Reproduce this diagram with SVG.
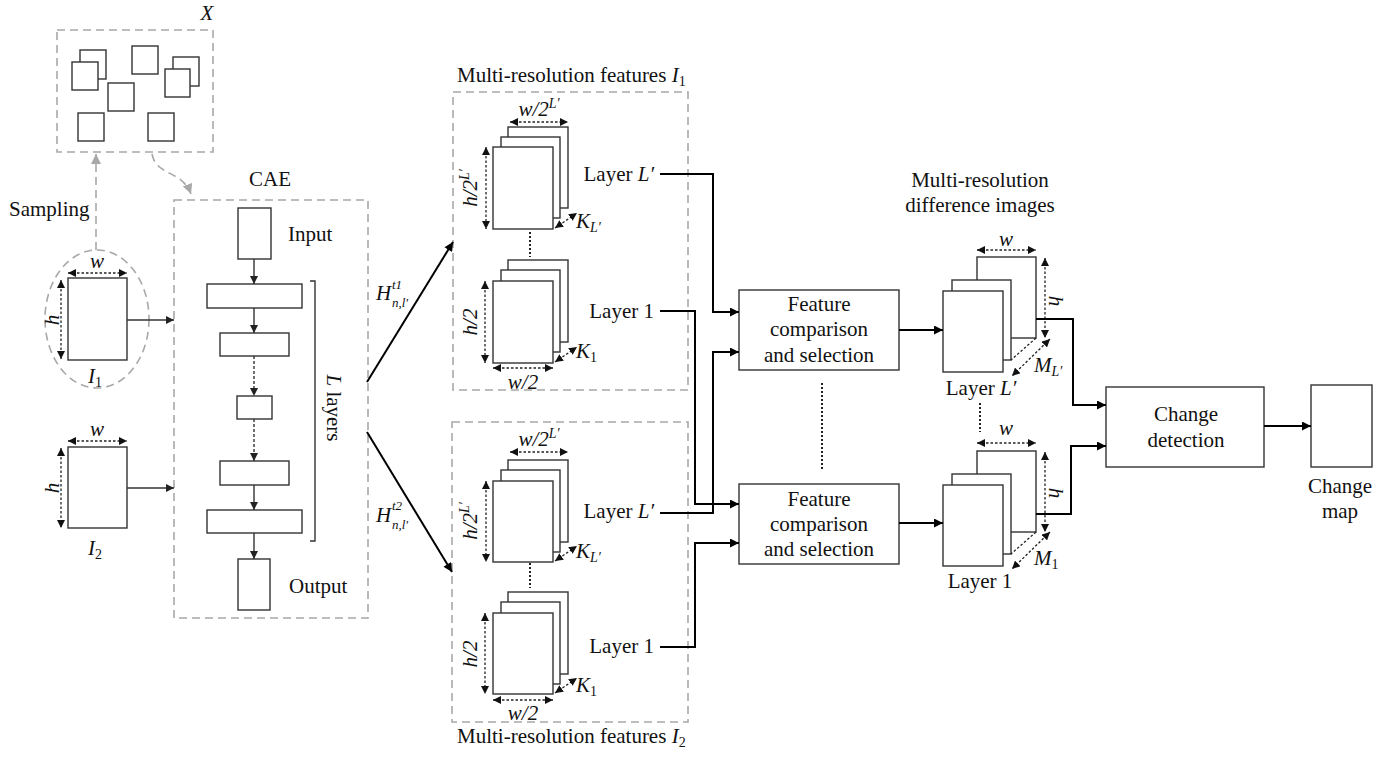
<svg xmlns="http://www.w3.org/2000/svg" width="1396" height="758" viewBox="0 0 1396 758">
<defs>
<style>
text{font-family:'Liberation Serif','DejaVu Serif',serif}
.t{font-family:'Liberation Serif','DejaVu Serif',serif;font-size:21px;fill:#111}
.m{font-family:'Liberation Serif','DejaVu Serif',serif;font-style:italic;font-size:21px;fill:#111}
.s{font-size:14px}
.ss{font-family:'Liberation Serif','DejaVu Serif',serif;font-style:italic;font-size:13px;fill:#111}
.box{fill:#fff;stroke:#333;stroke-width:1.4}
.dash{fill:none;stroke:#a8a8a8;stroke-width:1.6;stroke-dasharray:8,5}
.conn{fill:none;stroke:#000;stroke-width:2}
.thin{fill:none;stroke:#333;stroke-width:1.4}
.thind{fill:none;stroke:#333;stroke-width:1.4;stroke-dasharray:3,2}
.dim{fill:none;stroke:#222;stroke-width:1.3;stroke-dasharray:2.5,2}
.dot{fill:none;stroke:#222;stroke-width:2;stroke-dasharray:2,2}
</style>
<marker id="ah" viewBox="0 0 10 10" refX="10" refY="5" markerWidth="11" markerHeight="9" markerUnits="userSpaceOnUse" orient="auto"><path d="M0,0 L10,5 L0,10 z" fill="#000"/></marker>
<marker id="ah2" viewBox="0 0 10 10" refX="10" refY="5" markerWidth="9" markerHeight="8" markerUnits="userSpaceOnUse" orient="auto"><path d="M0,0 L10,5 L0,10 z" fill="#222"/></marker>
<marker id="ag" viewBox="0 0 10 10" refX="10" refY="5" markerWidth="10" markerHeight="10" markerUnits="userSpaceOnUse" orient="auto"><path d="M0,0 L10,5 L0,10 z" fill="#a8a8a8"/></marker>
<marker id="ad" viewBox="0 0 10 10" refX="10" refY="5" markerWidth="8" markerHeight="8" markerUnits="userSpaceOnUse" orient="auto-start-reverse"><path d="M0,0 L10,5 L0,10 z" fill="#111"/></marker>
</defs>
<rect width="1396" height="758" fill="#fff"/>

<!-- Sample set X -->
<g id="sample-set">
<rect class="dash" x="57" y="30" width="156" height="122"/>
<text class="m" x="207" y="20" text-anchor="middle">X</text>
<rect class="box" x="80" y="50" width="26" height="29"/>
<rect class="box" x="72" y="62" width="26" height="28"/>
<rect class="box" x="132" y="46" width="26" height="28"/>
<rect class="box" x="173" y="57" width="26" height="29"/>
<rect class="box" x="165" y="69" width="25" height="28"/>
<rect class="box" x="108" y="83" width="26" height="28"/>
<rect class="box" x="78" y="113" width="26" height="28"/>
<rect class="box" x="148" y="113" width="26" height="28"/>
</g>

<!-- Input image I1 -->
<g id="image-I1">
<ellipse class="dash" cx="97" cy="319" rx="52" ry="69"/>
<rect class="box" x="68" y="278" width="59" height="82"/>
<line class="dim" x1="68" y1="273" x2="127" y2="273" marker-start="url(#ad)" marker-end="url(#ad)"/>
<line class="dim" x1="61" y1="280" x2="61" y2="359" marker-start="url(#ad)" marker-end="url(#ad)"/>
<text class="m" x="97" y="268" text-anchor="middle">w</text>
<text class="m" transform="translate(59,320) rotate(-90)" text-anchor="middle">h</text>
<text class="m" x="88" y="383">I<tspan class="s" font-style="normal" dy="4">1</tspan></text>
<text class="t" x="9" y="216">Sampling</text>
</g>

<!-- Input image I2 -->
<g id="image-I2">
<rect class="box" x="68" y="447" width="59" height="81"/>
<line class="dim" x1="68" y1="441" x2="127" y2="441" marker-start="url(#ad)" marker-end="url(#ad)"/>
<line class="dim" x1="61" y1="448" x2="61" y2="528" marker-start="url(#ad)" marker-end="url(#ad)"/>
<text class="m" x="97" y="436" text-anchor="middle">w</text>
<text class="m" transform="translate(59,488) rotate(-90)" text-anchor="middle">h</text>
<text class="m" x="88" y="555">I<tspan class="s" font-style="normal" dy="4">2</tspan></text>
</g>

<!-- CAE -->
<g id="cae">
<rect class="dash" x="174" y="200" width="194" height="418"/>
<text class="t" x="270" y="186" text-anchor="middle">CAE</text>
<rect class="box" x="238" y="208" width="33" height="51"/>
<text class="t" x="288" y="241">Input</text>
<rect class="box" x="207" y="284" width="95" height="24"/>
<rect class="box" x="220" y="333" width="69" height="23"/>
<rect class="box" x="237" y="396" width="35" height="23"/>
<rect class="box" x="220" y="461" width="69" height="24"/>
<rect class="box" x="207" y="510" width="95" height="23"/>
<rect class="box" x="238" y="559" width="32" height="51"/>
<text class="t" x="289" y="593">Output</text>
<path class="thin" d="M310,281 H315 V541 H310"/>
<text transform="translate(327,408) rotate(90)" text-anchor="middle" class="t"><tspan font-style="italic">L</tspan> layers</text>
<line class="thin" x1="254" y1="259" x2="254" y2="284" marker-end="url(#ah2)"/>
<line class="thin" x1="254" y1="308" x2="254" y2="333" marker-end="url(#ah2)"/>
<line class="thind" x1="254" y1="356" x2="254" y2="396" marker-end="url(#ah2)"/>
<line class="thind" x1="254" y1="419" x2="254" y2="461" marker-end="url(#ah2)"/>
<line class="thin" x1="254" y1="485" x2="254" y2="510" marker-end="url(#ah2)"/>
<line class="thin" x1="254" y1="533" x2="254" y2="559" marker-end="url(#ah2)"/>
</g>

<!-- Multi-resolution features I1 -->
<g id="features-I1">
<rect class="dash" x="453" y="92" width="235" height="298"/>
<text class="t" x="457" y="82">Multi-resolution features <tspan font-style="italic">I</tspan><tspan class="s" dy="4">1</tspan></text>
<rect class="box" x="508" y="127" width="60" height="81"/>
<rect class="box" x="501" y="137" width="59" height="81"/>
<rect class="box" x="493" y="147" width="60" height="82"/>
<line class="dim" x1="510" y1="122" x2="568" y2="122" marker-start="url(#ad)" marker-end="url(#ad)"/>
<line class="dim" x1="486" y1="147" x2="486" y2="229" marker-start="url(#ad)" marker-end="url(#ad)"/>
<line class="dim" x1="555" y1="228" x2="577" y2="213" marker-start="url(#ad)" marker-end="url(#ad)"/>
<text class="m" x="539" y="116" text-anchor="middle">w/2<tspan class="s" dy="-8">L′</tspan></text>
<text class="m" transform="translate(477,188) rotate(-90)" text-anchor="middle">h/2<tspan class="s" dy="-8">L′</tspan></text>
<text class="m" x="576" y="228">K<tspan class="s" dy="4">L′</tspan></text>
<line class="dot" x1="530" y1="232" x2="530" y2="257"/>
<rect class="box" x="508" y="260" width="60" height="82"/>
<rect class="box" x="501" y="270" width="59" height="82"/>
<rect class="box" x="493" y="281" width="60" height="82"/>
<line class="dim" x1="485" y1="281" x2="485" y2="363" marker-start="url(#ad)" marker-end="url(#ad)"/>
<line class="dim" x1="493" y1="368" x2="553" y2="368" marker-start="url(#ad)" marker-end="url(#ad)"/>
<line class="dim" x1="555" y1="362" x2="577" y2="347" marker-start="url(#ad)" marker-end="url(#ad)"/>
<text class="m" transform="translate(477,322) rotate(-90)" text-anchor="middle">h/2</text>
<text class="m" x="523" y="389" text-anchor="middle">w/2</text>
<text class="m" x="576" y="358">K<tspan class="s" font-style="normal" dy="4">1</tspan></text>
<text class="t" x="654" y="181" text-anchor="end">Layer <tspan font-style="italic">L′</tspan></text>
<text class="t" x="654" y="318" text-anchor="end">Layer 1</text>
</g>

<!-- Multi-resolution features I2 -->
<g id="features-I2">
<rect class="dash" x="452" y="422" width="236" height="300"/>
<text class="t" x="457" y="743">Multi-resolution features <tspan font-style="italic">I</tspan><tspan class="s" dy="4">2</tspan></text>
<rect class="box" x="508" y="460" width="60" height="82"/>
<rect class="box" x="501" y="470" width="59" height="82"/>
<rect class="box" x="493" y="481" width="60" height="81"/>
<line class="dim" x1="510" y1="452" x2="568" y2="452" marker-start="url(#ad)" marker-end="url(#ad)"/>
<line class="dim" x1="486" y1="481" x2="486" y2="562" marker-start="url(#ad)" marker-end="url(#ad)"/>
<line class="dim" x1="555" y1="561" x2="577" y2="546" marker-start="url(#ad)" marker-end="url(#ad)"/>
<text class="m" x="539" y="446" text-anchor="middle">w/2<tspan class="s" dy="-8">L′</tspan></text>
<text class="m" transform="translate(477,521) rotate(-90)" text-anchor="middle">h/2<tspan class="s" dy="-8">L′</tspan></text>
<text class="m" x="576" y="558">K<tspan class="s" dy="4">L′</tspan></text>
<line class="dot" x1="530" y1="563" x2="530" y2="588"/>
<rect class="box" x="508" y="592" width="60" height="82"/>
<rect class="box" x="501" y="602" width="59" height="82"/>
<rect class="box" x="493" y="613" width="60" height="81"/>
<line class="dim" x1="485" y1="613" x2="485" y2="694" marker-start="url(#ad)" marker-end="url(#ad)"/>
<line class="dim" x1="493" y1="700" x2="553" y2="700" marker-start="url(#ad)" marker-end="url(#ad)"/>
<line class="dim" x1="555" y1="693" x2="577" y2="678" marker-start="url(#ad)" marker-end="url(#ad)"/>
<text class="m" transform="translate(477,654) rotate(-90)" text-anchor="middle">h/2</text>
<text class="m" x="523" y="720" text-anchor="middle">w/2</text>
<text class="m" x="576" y="692">K<tspan class="s" font-style="normal" dy="4">1</tspan></text>
<text class="t" x="654" y="518" text-anchor="end">Layer <tspan font-style="italic">L′</tspan></text>
<text class="t" x="654" y="653" text-anchor="end">Layer 1</text>
</g>

<!-- Feature comparison boxes -->
<g id="fcs-1">
<rect class="box" x="739" y="290" width="160" height="80"/>
<text class="t" x="819" y="311" text-anchor="middle">Feature</text>
<text class="t" x="819" y="336" text-anchor="middle">comparison</text>
<text class="t" x="819" y="362" text-anchor="middle">and selection</text>
</g>
<g id="fcs-2">
<rect class="box" x="739" y="484" width="160" height="80"/>
<text class="t" x="819" y="506" text-anchor="middle">Feature</text>
<text class="t" x="819" y="531" text-anchor="middle">comparison</text>
<text class="t" x="819" y="556" text-anchor="middle">and selection</text>
</g>
<line class="dot" x1="822" y1="383" x2="822" y2="470"/>

<!-- Difference images -->
<g id="diff-Lp">
<text class="t" x="980" y="187" text-anchor="middle">Multi-resolution</text>
<text class="t" x="980" y="212" text-anchor="middle">difference images</text>
<rect class="box" x="977" y="257" width="59" height="81"/>
<rect class="box" x="952" y="280" width="59" height="80"/>
<rect class="box" x="943" y="291" width="60" height="81"/>
<line class="dim" x1="977" y1="250" x2="1036" y2="250" marker-start="url(#ad)" marker-end="url(#ad)"/>
<line class="dim" x1="1045" y1="258" x2="1045" y2="338" marker-start="url(#ad)" marker-end="url(#ad)"/>
<line class="dim" x1="1036" y1="338" x2="1011" y2="360"/>
<line class="dim" x1="1050" y1="339" x2="1012" y2="376" marker-start="url(#ad)" marker-end="url(#ad)"/>
<text class="m" x="1006" y="246" text-anchor="middle">w</text>
<text class="m" transform="translate(1049,301) rotate(90)" text-anchor="middle">h</text>
<text class="m" x="1034" y="372">M<tspan class="s" dy="4">L′</tspan></text>
<text class="t" x="981" y="395" text-anchor="middle">Layer <tspan font-style="italic">L′</tspan></text>
</g>
<line class="dot" x1="980" y1="403" x2="980" y2="432"/>
<g id="diff-1">
<rect class="box" x="977" y="451" width="59" height="81"/>
<rect class="box" x="952" y="474" width="59" height="80"/>
<rect class="box" x="943" y="485" width="60" height="81"/>
<line class="dim" x1="977" y1="443" x2="1036" y2="443" marker-start="url(#ad)" marker-end="url(#ad)"/>
<line class="dim" x1="1045" y1="452" x2="1045" y2="532" marker-start="url(#ad)" marker-end="url(#ad)"/>
<line class="dim" x1="1036" y1="532" x2="1011" y2="554"/>
<line class="dim" x1="1050" y1="532" x2="1012" y2="569" marker-start="url(#ad)" marker-end="url(#ad)"/>
<text class="m" x="1006" y="435" text-anchor="middle">w</text>
<text class="m" transform="translate(1049,493) rotate(90)" text-anchor="middle">h</text>
<text class="m" x="1034" y="565">M<tspan class="s" font-style="normal" dy="4">1</tspan></text>
<text class="t" x="980" y="588" text-anchor="middle">Layer 1</text>
</g>

<!-- Change detection -->
<g id="change-detection">
<rect class="box" x="1106" y="387" width="158" height="80"/>
<text class="t" x="1186" y="421" text-anchor="middle">Change</text>
<text class="t" x="1186" y="447" text-anchor="middle">detection</text>
</g>
<g id="change-map">
<rect class="box" x="1311" y="385" width="61" height="82"/>
<text class="t" x="1340" y="493" text-anchor="middle">Change</text>
<text class="t" x="1340" y="518" text-anchor="middle">map</text>
</g>

<!-- Connectors -->
<g id="connectors">
<line class="dash" x1="96" y1="250" x2="96" y2="154" marker-end="url(#ag)"/>
<path class="dash" d="M152,154 C156,176 182,170 191,194" marker-end="url(#ag)"/>
<line class="thin" x1="127" y1="320" x2="174" y2="320" marker-end="url(#ah2)"/>
<line class="thin" x1="127" y1="488" x2="174" y2="488" marker-end="url(#ah2)"/>
<line class="conn" x1="367" y1="382" x2="453" y2="242" marker-end="url(#ah)"/>
<line class="conn" x1="367" y1="432" x2="452" y2="572" marker-end="url(#ah)"/>
<text class="m" x="376" y="300">H</text>
<text class="ss" x="392" y="289">t1</text>
<text class="ss" x="392" y="307">n,l′</text>
<text class="m" x="376" y="522">H</text>
<text class="ss" x="392" y="510">t2</text>
<text class="ss" x="392" y="529">n,l′</text>
<path class="conn" d="M660,174 H713 V312 H739" marker-end="url(#ah)"/>
<path class="conn" d="M660,311 H695 V504 H739" marker-end="url(#ah)"/>
<path class="conn" d="M660,513 H713 V352 H739" marker-end="url(#ah)"/>
<path class="conn" d="M660,647 H695 V543 H739" marker-end="url(#ah)"/>
<line class="conn" x1="899" y1="330" x2="943" y2="330" marker-end="url(#ah)"/>
<line class="conn" x1="899" y1="523" x2="943" y2="523" marker-end="url(#ah)"/>
<path class="conn" d="M1036,319 H1073 V405 H1106" marker-end="url(#ah)"/>
<path class="conn" d="M1036,514 H1071 V446 H1106" marker-end="url(#ah)"/>
<line class="conn" x1="1264" y1="426" x2="1311" y2="426" marker-end="url(#ah)"/>
</g>
</svg>
